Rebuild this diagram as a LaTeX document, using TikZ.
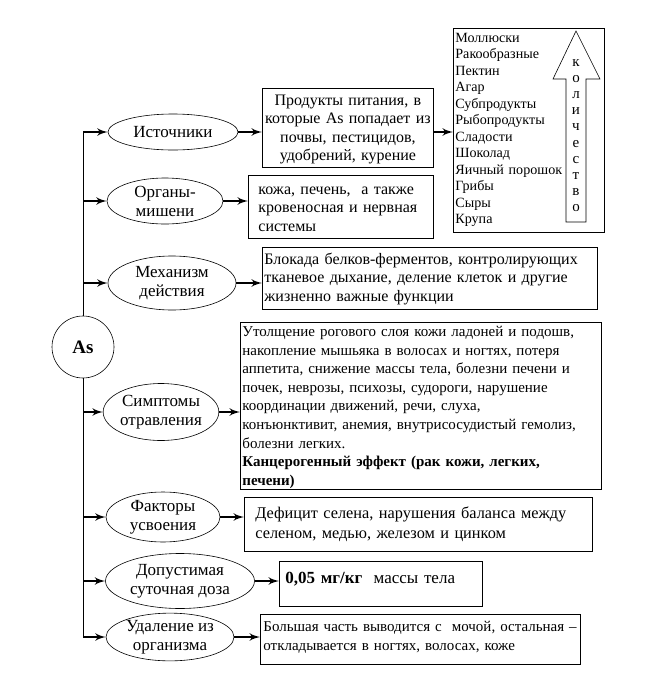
\documentclass[tikz,border=0pt]{standalone}
\usepackage{fontspec}
\setmainfont{Liberation Serif}
\usetikzlibrary{shapes,arrows}

\begin{document}
\begin{tikzpicture}[x=1pt,y=-1pt]
\tikzset{
oval/.style={ellipse,draw=black,line width=0.6pt,inner sep=0pt,align=center,font=\fontsize{17}{19}\selectfont},
block/.style={rectangle,draw=black,line width=0.8pt,inner ysep=0pt,anchor=north west,align=left,font=\fontsize{16}{18.5}\selectfont},
myarrow/.style={->, >=latex', line width=2.6pt},
spine/.style={line width=0.8pt},
}
\fill[white] (0,0) rectangle (660,681);

\node [oval, minimum width=130, minimum height=36] (sources) at (173,132) {Источники};
\node [block, inner xsep=2, text width=167, align=center, text height=17, text depth=62] (foods) at (262,88) {Продукты питания, в\\которые As попадает из\\почвы, пестицидов,\\удобрений, курение};
\node [block, inner xsep=2, text width=147, text height=14, text depth=190, font=\fontsize{14.1}{16.5}\selectfont] (foodlist) at (453,28) {Моллюски\\Ракообразные\\Пектин\\Агар\\Субпродукты\\Рыбопродукты\\Сладости\\Шоколад\\Яичный порошок\\Грибы\\Сыры\\Крупа};
\draw[line width=0.6pt] (566,222) -- (566,79) -- (553,79) -- (576,31) -- (600,79) -- (586,79) -- (586,222) -- cycle;
\node [anchor=base, text width=14, align=center, inner sep=0pt, font=\fontsize{15}{16.1}\selectfont] (amount) at (576,66.5) {к\\о\\л\\и\\ч\\е\\с\\т\\в\\о};

\node [oval, minimum width=116, minimum height=46] (organs) at (165,201) {Органы-\\мишени};
\node [block, inner xsep=10, text width=165, text height=19, text depth=44] (organsbox) at (248,175) {кожа, печень,~~а также\\кровеносная и нервная\\системы};
\node [oval, minimum width=128, minimum height=54] (action) at (172,283) {Механизм\\действия};
\node [block, inner xsep=2, text width=331, text height=17, text depth=45] (actionbox) at (262,247) {Блокада белков-ферментов, контролирующих\\тканевое дыхание, деление клеток и другие\\жизненно важные функции};

\node [circle, draw=black, line width=0.6pt, fill=white, minimum size=62, inner sep=0pt, font=\bfseries\fontsize{19}{21}\selectfont] (as) at (83,347) {As};

\node [oval, minimum width=112, minimum height=57] (symptoms) at (161,412) {Симптомы\\отравления};
\node [block, inner xsep=2, text width=357, text height=14, text depth=153, font=\fontsize{15}{18.6}\selectfont] (symptomsbox) at (240,322) {Утолщение рогового слоя кожи ладоней и подошв,\\накопление мышьяка в волосах и ногтях, потеря\\аппетита, снижение массы тела, болезни печени и\\почек, неврозы, психозы, судороги, нарушение\\координации движений, речи, слуха,\\конъюнктивит, анемия, внутрисосудистый гемолиз,\\болезни легких.\\\textbf{Канцерогенный эффект (рак кожи, легких,}\\\textbf{печени)}};
\node [oval, minimum width=114, minimum height=50] (uptake) at (163,517) {Факторы\\усвоения};
\node [block, inner xsep=11, text width=326, text height=21, text depth=33, font=\fontsize{16.3}{20.5}\selectfont] (uptakebox) at (244,497) {Дефицит селена, нарушения баланса между\\селеном, медью, железом и цинком};
\node [oval, minimum width=149, minimum height=55] (dose) at (180,581) {Допустимая\\суточная доза};
\node [block, inner xsep=6, text width=191, text height=22, text depth=23, font=\fontsize{17}{19}\selectfont] (dosebox) at (279,561) {\textbf{0,05 мг/кг}~~массы тела};
\node [oval, minimum width=128, minimum height=44] (removal) at (170,637) {Удаление из\\организма};
\node [block, inner xsep=3, text width=314, text height=17, text depth=33, font=\fontsize{15}{19}\selectfont] (removalbox) at (260,614) {Большая часть выводится с~~мочой, остальная –\\откладывается в ногтях, волосах, коже};

\draw[spine] (as |- sources) -- (as.north);
\draw[spine] (as.south) -- (as |- removal);
\foreach \n in {sources,organs,action,symptoms,uptake,dose,removal}
  \draw[myarrow] (as |- \n) -- (\n.west);
\foreach \a/\b in {sources/foods,organs/organsbox,action/actionbox,symptoms/symptomsbox,uptake/uptakebox,dose/dosebox,removal/removalbox}
  \draw[myarrow] (\a.east) -- (\a.east -| \b.west);
\draw[myarrow] (foods.east |- sources) -- (foodlist.west |- sources);
\end{tikzpicture}
\end{document}
